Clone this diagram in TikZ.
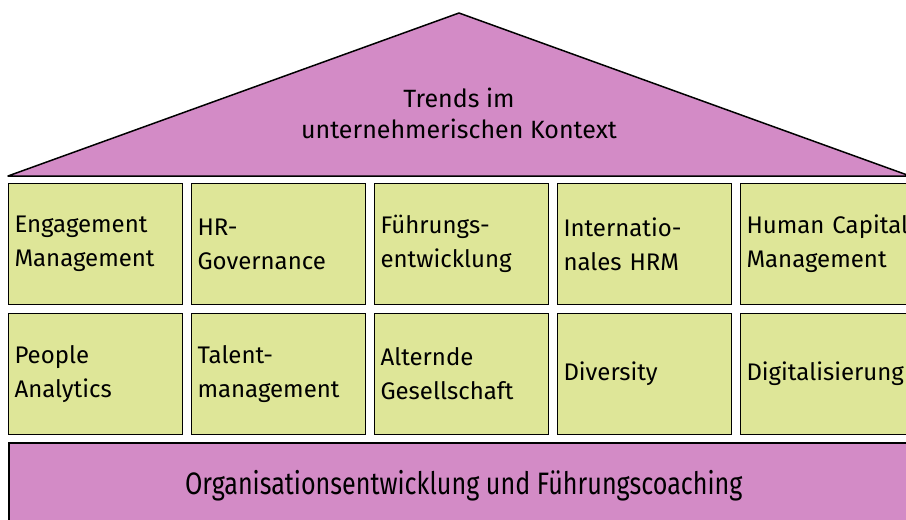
\documentclass[tikz,border=0pt]{standalone}
\usepackage{fontspec}
\setmainfont{Fira Sans}
\definecolor{dachlila}{RGB}{211,139,198}
\definecolor{feldgruen}{RGB}{222,230,152}
\tikzstyle{feld}=[draw=black,line width=1.5pt,fill=feldgruen,minimum width=174pt,minimum height=121pt,text width=162pt,align=left,inner xsep=6pt,inner ysep=4pt,font=\fontsize{24}{34}\selectfont]
\tikzstyle{lila}=[draw=black,line width=1.5pt,fill=dachlila]
\def\schritt{183}

\begin{document}
\begin{tikzpicture}[x=1pt,y=-1pt]
	\useasboundingbox (0,0) rectangle (906,520);
	\clip (0,0) rectangle (906,520);
	% Dach
	\draw[lila,line join=round] (8,176)--(459,13)--(910,176)--cycle;
	\node[align=center,font=\fontsize{25}{31}\selectfont] (dach) at (459,113) {Trends im\\unternehmerischen Kontext};
	% Saeulen
	\foreach \i/\oben/\unten in {0/{Engagement\\Management}/{People\\Analytics},
			1/{HR-\\Governance}/{Talent-\\management},
			2/{Führungs-\\entwicklung}/{Alternde\\Gesellschaft},
			3/{Internatio-\\nales HRM}/{Diversity},
			4/{\mbox{Human Capital}\\Management}/{Digitalisierung}} {
		\node[feld] (oben-\i) at (95.5+\i*\schritt,244) {\oben};
		\node[feld] (unten-\i) at (95.5+\i*\schritt,374) {\unten};
	}
	% Fundament
	\node[lila,anchor=north west,minimum width=910pt,minimum height=86pt,font=\fontsize{31}{36}\selectfont] (basis) at (8,442) {\scalebox{0.81}[1]{Organisationsentwicklung und Führungscoaching}};
\end{tikzpicture}
\end{document}
